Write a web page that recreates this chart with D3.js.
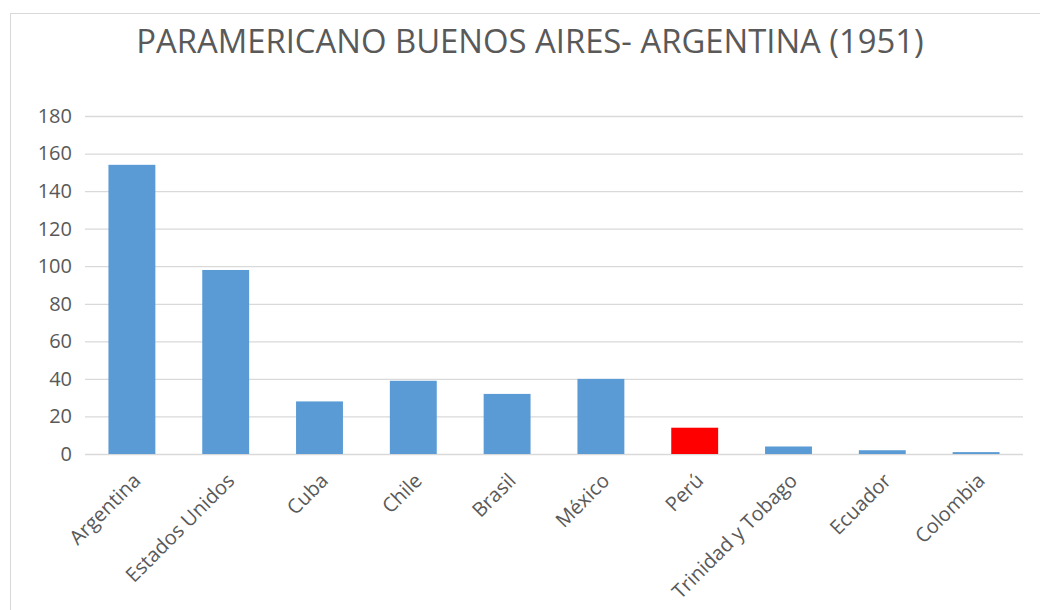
<!DOCTYPE html>
<html>
<head>
<meta charset="utf-8">
<script src="https://cdn.jsdelivr.net/npm/d3@7"></script>
<style>
  body { margin: 0; background: #fff; }
  svg { display: block; }
</style>
</head>
<body>
<script>
// data
var paises = ["Argentina", "Estados Unidos", "Cuba", "Chile", "Brasil", "México", "Perú", "Trinidad y Tobago", "Ecuador", "Colombia"];
var valores = [154, 98, 28, 39, 32, 40, 14, 4, 2, 1];
var destacado = ["Perú"];
var yTicks = [0, 20, 40, 60, 80, 100, 120, 140, 160, 180];
var titulo = "PARAMERICANO BUENOS AIRES- ARGENTINA (1951)";

var width = 1040,
    height = 610;
// plot area (note: "top" is reserved on window, so use own names)
var plotLeft = 85, plotRight = 1023, plotTop = 116, plotBottom = 454;
var textColor = "#595959",
    font = "Open Sans, sans-serif";

var svg = d3.select("body").append("svg")
    .attr("width", width)
    .attr("height", height);

// chart frame (only top and left edges are visible)
svg.append("rect")
    .attr("x", 10.5).attr("y", 13.5)
    .attr("width", 1100).attr("height", 700)
    .attr("fill", "#fff")
    .attr("stroke", "#d9d9d9");

svg.append("text")
    .attr("x", 530).attr("y", 53)
    .attr("text-anchor", "middle")
    .attr("font-family", font)
    .attr("font-size", 32.8)
    .attr("fill", textColor)
    .text(titulo);

var x = d3.scaleBand()
    .domain(paises)
    .range([plotLeft, plotRight])
    .paddingInner(0.5)
    .paddingOuter(0.25);

var y = d3.scaleLinear()
    .domain([0, 180])
    .range([plotBottom, plotTop]);

// gridlines + y labels
var yAxis = svg.append("g")
    .attr("transform", "translate(" + plotLeft + ",0)")
    .call(d3.axisLeft(y).tickValues(yTicks).tickSize(-(plotRight - plotLeft)).tickPadding(13));
yAxis.select(".domain").remove();
yAxis.selectAll(".tick line").attr("stroke", "#d9d9d9").attr("stroke-width", 1.3);
yAxis.selectAll(".tick text")
    .attr("font-family", font)
    .attr("font-size", 20)
    .attr("fill", textColor);

svg.selectAll(".bar")
    .data(valores)
    .enter().append("rect")
    .attr("class", "bar")
    .attr("x", function(d, i) { return x(paises[i]); })
    .attr("y", function(d) { return y(d); })
    .attr("width", x.bandwidth())
    .attr("height", function(d) { return y(0) - y(d); })
    .attr("fill", function(d, i) { return destacado.indexOf(paises[i]) >= 0 ? "#ff0000" : "#5b9bd5"; });

var xAxis = svg.append("g")
    .attr("transform", "translate(0," + plotBottom + ")")
    .call(d3.axisBottom(x).tickSize(0).tickPadding(0));
xAxis.select(".domain").remove();
xAxis.selectAll(".tick text")
    .attr("y", 0)
    .attr("font-family", font)
    .attr("font-size", 20)
    .attr("fill", textColor)
    .attr("text-anchor", "end")
    .attr("dy", "0.35em")
    .attr("transform", "translate(5,23) rotate(-45)");
</script>
</body>
</html>
